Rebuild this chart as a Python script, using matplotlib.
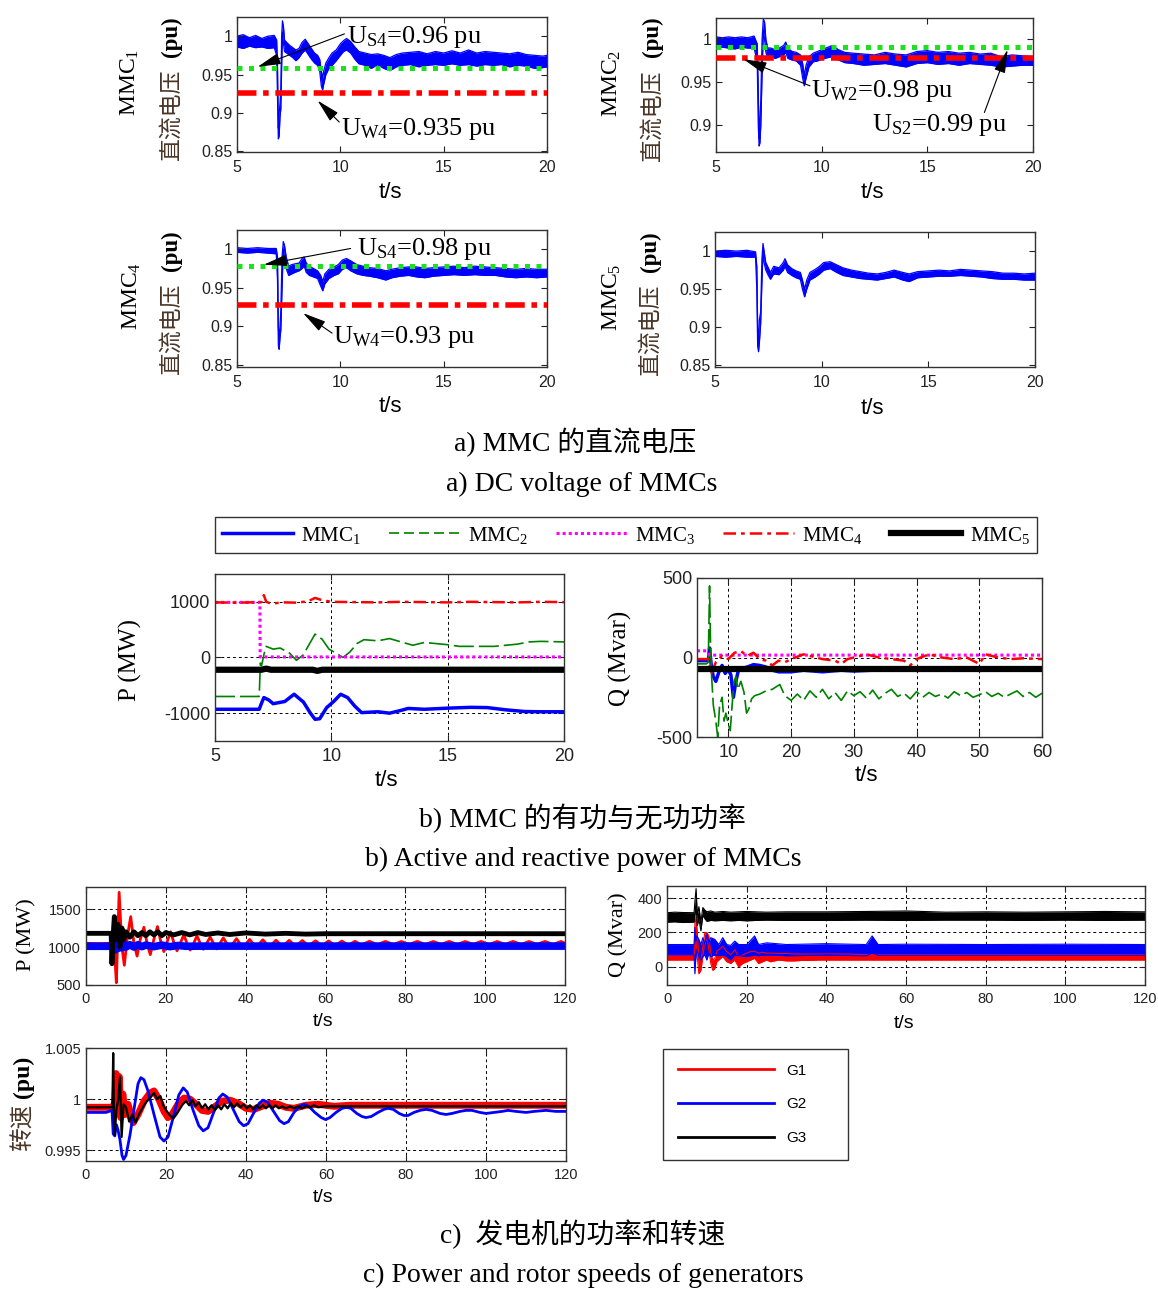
import numpy as np
import matplotlib
matplotlib.use("Agg")
import matplotlib.pyplot as plt
from matplotlib.lines import Line2D
from matplotlib.ticker import FormatStrFormatter

plt.rcParams['font.family'] = ['Liberation Sans', 'DejaVu Sans']
plt.rcParams['axes.unicode_minus'] = False
plt.rcParams['mathtext.fontset'] = 'custom'
plt.rcParams['mathtext.rm'] = 'Liberation Serif'
plt.rcParams['mathtext.it'] = 'Liberation Serif:italic'
plt.rcParams['mathtext.bf'] = 'Liberation Serif:bold'
SERIF = ['Liberation Serif', 'Noto Sans CJK SC']
CJK = ['Noto Sans CJK SC']

# ======================= DATA =======================
# a) DC voltage of MMCs: (t [s], lower edge, upper edge) of the noisy trace [pu]
dc_mmc1 = [
    (5.0, .986, 1.000), (5.3, .984, 1.002), (5.6, .987, .998), (5.9, .985, 1.001), (6.2, .986, .997),
    (6.5, .984, 1.000), (6.8, .985, 1.001), (6.92, .975, .995), (6.96, .920, .960), (7.0, .866, .880),
    (7.04, .870, .900), (7.08, .895, .912), (7.12, .905, .930), (7.16, .960, 1.000), (7.2, 1.005, 1.020),
    (7.25, .990, 1.012), (7.3, .980, .995), (7.4, .978, .992), (7.55, .975, .988), (7.7, .972, .985),
    (7.85, .968, .982), (8.0, .972, .984), (8.15, .978, .992), (8.3, .982, .996), (8.45, .976, .990),
    (8.6, .970, .984), (8.75, .965, .978), (8.9, .962, .975), (9.0, .955, .970), (9.08, .935, .955),
    (9.14, .930, .945), (9.2, .938, .955), (9.3, .950, .965), (9.45, .958, .972), (9.6, .962, .978),
    (9.8, .968, .982), (10.0, .975, .990), (10.15, .980, .994), (10.3, .982, .997), (10.5, .978, .993),
    (10.7, .970, .986), (10.9, .964, .980), (11.2, .962, .978), (11.5, .958, .976), (11.8, .963, .977),
    (12.1, .958, .975), (12.4, .955, .972), (12.7, .960, .976), (13.0, .962, .978), (13.4, .963, .979),
    (13.8, .960, .980), (14.2, .962, .977), (14.6, .963, .980), (15.0, .962, .978), (15.4, .964, .981),
    (15.8, .962, .978), (16.2, .963, .982), (16.6, .961, .978), (17.0, .963, .980), (17.4, .962, .979),
    (17.8, .963, .978), (18.2, .960, .977), (18.6, .962, .979), (19.0, .961, .976), (19.4, .958, .975),
    (19.8, .959, .974), (20.0, .960, .975)]
dc_mmc2 = [
    (5.0, .990, 1.003), (5.3, .991, 1.002), (5.6, .990, 1.003), (5.9, .989, 1.002), (6.2, .991, 1.003),
    (6.5, .990, 1.002), (6.8, .990, 1.004), (6.95, .975, .995), (7.0, .900, .940), (7.04, .876, .885),
    (7.08, .880, .905), (7.12, .900, .930), (7.18, .960, 1.000), (7.24, 1.010, 1.024), (7.3, 1.000, 1.020),
    (7.36, .985, 1.000), (7.45, .978, .990), (7.6, .980, .990), (7.8, .978, .988), (8.0, .980, .990),
    (8.2, .982, .993), (8.3, .985, .997), (8.4, .978, .990), (8.6, .976, .986), (8.8, .975, .985),
    (9.0, .970, .982), (9.1, .955, .972), (9.18, .946, .958), (9.26, .955, .970), (9.4, .968, .980),
    (9.6, .974, .984), (9.8, .975, .986), (10.0, .977, .988), (10.3, .979, .991), (10.5, .980, .993),
    (10.8, .976, .988), (11.1, .973, .985), (11.5, .972, .984), (12.0, .970, .983), (12.5, .971, .982),
    (13.0, .972, .985), (13.5, .970, .983), (14.0, .968, .982), (14.5, .972, .986), (15.0, .973, .987),
    (15.5, .971, .985), (16.0, .972, .986), (16.5, .970, .984), (17.0, .972, .985), (17.5, .971, .983),
    (18.0, .970, .984), (18.5, .968, .980), (19.0, .969, .982), (19.5, .970, .981), (20.0, .970, .980)]
dc_mmc4 = [
    (5.0, .996, 1.002), (5.5, .995, 1.001), (6.0, .996, 1.002), (6.5, .995, 1.001), (6.9, .994, 1.001),
    (6.96, .960, .990), (7.0, .875, .900), (7.04, .870, .880), (7.08, .885, .900), (7.12, .895, .920),
    (7.18, .950, .990), (7.24, 1.000, 1.010), (7.3, .990, 1.005), (7.38, .975, .990), (7.5, .966, .978),
    (7.65, .968, .980), (7.8, .970, .981), (8.0, .972, .982), (8.15, .975, .988), (8.25, .978, .990),
    (8.35, .970, .982), (8.5, .966, .978), (8.7, .964, .975), (8.9, .962, .972), (9.05, .952, .966),
    (9.15, .946, .958), (9.25, .955, .968), (9.45, .962, .974), (9.7, .966, .977), (9.9, .968, .980),
    (10.1, .974, .986), (10.3, .976, .988), (10.5, .972, .985), (10.8, .968, .980), (11.1, .966, .978),
    (11.4, .965, .976), (11.8, .963, .975), (12.2, .960, .972), (12.5, .963, .974), (12.9, .965, .976),
    (13.3, .966, .977), (13.7, .964, .977), (14.1, .963, .975), (14.5, .965, .976), (15.0, .966, .977),
    (15.5, .967, .978), (16.0, .966, .976), (16.5, .967, .978), (17.0, .966, .977), (17.5, .966, .976),
    (18.0, .964, .975), (18.5, .963, .974), (19.0, .964, .975), (19.5, .963, .974), (20.0, .964, .974)]
dc_mmc5 = [
    (5.0, .993, 1.000), (5.5, .992, 1.001), (6.0, .993, 1.000), (6.5, .992, 1.001), (6.9, .992, .999),
    (6.96, .950, .980), (7.0, .875, .900), (7.04, .868, .878), (7.08, .880, .910), (7.14, .905, .920),
    (7.2, .960, .990), (7.25, 1.000, 1.010), (7.3, .985, 1.000), (7.38, .975, .985), (7.5, .968, .978),
    (7.6, .963, .972), (7.75, .970, .980), (8.0, .969, .978), (8.2, .975, .985), (8.28, .980, .990),
    (8.4, .972, .982), (8.6, .968, .977), (8.8, .965, .974), (9.0, .963, .972), (9.1, .950, .962),
    (9.2, .940, .950), (9.3, .950, .962), (9.45, .962, .972), (9.7, .966, .976), (9.9, .970, .980),
    (10.1, .975, .985), (10.4, .977, .986), (10.7, .972, .982), (11.0, .968, .978), (11.4, .966, .975),
    (11.8, .964, .973), (12.2, .963, .971), (12.6, .962, .970), (13.0, .964, .972), (13.4, .966, .975),
    (13.8, .962, .972), (14.1, .960, .970), (14.5, .965, .973), (15.0, .966, .974), (15.5, .967, .975),
    (16.0, .967, .974), (16.5, .968, .976), (17.0, .967, .975), (17.5, .966, .974), (18.0, .964, .973),
    (18.5, .963, .971), (19.0, .963, .971), (19.5, .962, .970), (20.0, .962, .971)]
# threshold levels drawn in a) [pu]: (green dotted U_S, red dash-dot U_W)
lvl_mmc1 = (0.959, 0.926)
lvl_mmc2 = (0.991, 0.979)
lvl_mmc4 = (0.978, 0.927)
# annotation texts
ann_mmc1 = (r'U$_{\mathrm{S4}}$=0.96 pu', r'U$_{\mathrm{W4}}$=0.935 pu')
ann_mmc2 = (r'U$_{\mathrm{W2}}$=0.98 pu', r'U$_{\mathrm{S2}}$=0.99 pu')
ann_mmc4 = (r'U$_{\mathrm{S4}}$=0.98 pu', r'U$_{\mathrm{W4}}$=0.93 pu')

# b) active power of MMCs [MW]: (t, P)
p_mmc1 = [(5, -930), (6.9, -930), (7.0, -820), (7.1, -720), (7.3, -760), (7.5, -830), (8.0, -790),
          (8.4, -660), (8.8, -800), (9.1, -1000), (9.3, -1110), (9.5, -1100), (9.8, -900), (10.1, -790),
          (10.4, -660), (10.7, -720), (11.0, -870), (11.3, -990), (12.0, -975), (12.5, -1000), (13.0, -950),
          (13.3, -915), (14.0, -930), (15.0, -910), (16.0, -895), (16.7, -900), (17.5, -940), (18.3, -970),
          (19.0, -975), (20.0, -975)]
p_mmc2 = [(5, -700), (6.9, -700), (6.95, -100), (7.0, -150), (7.1, 50), (7.2, 200), (7.5, 150), (7.8, 170),
          (8.2, 80), (8.5, -50), (8.8, 50), (9.0, 200), (9.3, 420), (9.6, 330), (9.9, 150), (10.2, 80),
          (10.5, 0), (10.8, 100), (11.1, 250), (11.4, 320), (12.0, 300), (12.5, 340), (13.0, 280), (13.5, 220),
          (14.0, 270), (15.0, 230), (15.5, 200), (16.0, 200), (17.0, 200), (17.5, 220), (18.0, 240),
          (18.5, 280), (19.0, 290), (20.0, 280)]
p_mmc3 = [(5, 990), (6.93, 990), (6.94, 10), (20, 10)]
p_mmc4 = [(5, 990), (6.0, 985), (7.0, 995), (7.1, 1120), (7.2, 1000), (7.4, 970), (8.0, 990), (8.5, 985),
          (9.0, 1010), (9.3, 1070), (9.6, 1030), (10.0, 1000), (11.0, 995), (12.0, 990), (13.0, 1000),
          (14.0, 995), (15.0, 990), (16.0, 1000), (17.0, 995), (18.0, 990), (19.0, 1000), (20.0, 995)]
p_mmc5 = [(5, -220), (7.0, -220), (7.2, -200), (7.4, -220), (9.2, -220), (9.4, -240), (9.6, -220), (20, -220)]

# b) reactive power of MMCs [Mvar]: (t, Q)
q_mmc1 = [(5, -20), (6.8, -20), (7.0, 60), (7.3, -60), (7.6, -120), (8.0, -150), (8.5, -90), (9.0, -50),
          (9.5, -100), (10.0, -70), (10.4, -110), (10.8, -250), (11.2, -150), (11.6, -80), (12.0, -70),
          (13.0, -60), (14.0, -45), (15.0, -50), (16.0, -60), (17.0, -80), (18.0, -90), (20.0, -90),
          (22.0, -80), (25.0, -90), (28.0, -80), (30.0, -85), (33.0, -80), (60.0, -80)]
q_mmc2 = [(5, -40), (6.5, -40), (6.8, -30), (7.0, 450), (7.15, 100), (7.3, -100), (7.6, -300), (8.0, -400),
          (8.3, -500), (8.6, -300), (9.0, -250), (9.3, -400), (9.6, -350), (10.0, -420), (10.3, -460),
          (10.6, -300), (10.9, -150), (11.2, -120), (11.5, -200), (12.0, -150), (12.5, -220), (12.9, -350),
          (13.3, -320), (13.7, -260), (14.2, -240), (15, -230), (16, -210), (17, -200), (18.2, -170),
          (19, -240), (20, -270), (21, -230), (22, -270), (23, -210), (24, -250), (25, -200), (26, -260),
          (27, -220), (28, -270), (29, -210), (30, -240), (31, -215), (32, -255), (33, -205), (34, -260),
          (35, -225), (36, -200), (37, -245), (38, -225), (39, -260), (40, -215), (41, -250), (42, -220),
          (43, -245), (44, -230), (45, -255), (46, -215), (47, -240), (48, -220), (49, -250), (50, -235),
          (51, -215), (52, -245), (53, -225), (54, -250), (55, -230), (56, -210), (57, -245), (58, -220),
          (59, -250), (60, -225)]
q_mmc3 = [(5, 42), (6.5, 42), (7.0, 15), (60, 15)]
q_mmc4 = [(5, -10), (6.8, -10), (7.2, -100), (7.5, -80), (8.0, -30), (8.5, -10), (9, 10), (10, -10), (11, 30),
          (12, 40), (13, 10), (14, 30), (15, -10), (16, -20), (17, -50), (18, -20), (19, -30), (20, -10),
          (22, 20), (24, 0), (25, -10), (27, -20), (28, -40), (29, -10), (30, 0), (32, 20), (34, 0), (36, -10),
          (38, -20), (39, -50), (40, -10), (42, 20), (44, 0), (46, -10), (48, 0), (50, -40), (51, 20), (53, 0),
          (55, -10), (57, -5), (60, -10)]
q_mmc5 = [(5, -75), (60, -75)]

# c) generator active power [MW]: (t, P)
gp_g1 = [(0, 1050), (3, 1045), (6.8, 1050), (7.2, 900), (7.6, 530), (8.3, 1720), (9.0, 1000), (9.6, 760),
         (10.4, 1150), (11.2, 1400), (12.0, 1050), (12.8, 880), (13.6, 1100), (14.5, 1260), (15.3, 1050),
         (16.1, 900), (17.0, 1100), (17.9, 1270), (18.7, 1080), (19.5, 940), (20.4, 1080), (21.2, 1200),
         (22.0, 1060), (22.8, 950), (23.7, 1060), (24.5, 1160), (25.3, 1050), (26.1, 960), (27.0, 1050),
         (27.8, 1150), (28.6, 1050), (29.4, 970), (31.1, 1130), (32.7, 975), (34.4, 1120), (36.0, 985),
         (37.7, 1110), (39.3, 990), (41.0, 1100), (42.6, 995), (44.3, 1095), (45.9, 1000), (47.6, 1090),
         (49.2, 1005), (50.9, 1088), (52.5, 1010), (54.2, 1085), (55.8, 1015), (57.5, 1082), (59.1, 1018),
         (60.8, 1080), (62.4, 1020), (64.1, 1078), (65.7, 1025), (67.4, 1075), (69.0, 1028), (71, 1075),
         (73, 1032), (75, 1074), (77, 1034), (79, 1073), (81, 1035), (83, 1074), (85, 1034), (87, 1073),
         (89, 1035), (91, 1074), (93, 1034), (95, 1073), (97, 1035), (99, 1074), (101, 1034), (103, 1073),
         (105, 1035), (107, 1074), (109, 1034), (111, 1073), (113, 1035), (115, 1074), (117, 1034),
         (119, 1073), (120, 1050)]
gp_g2 = [(0, 1010), (6.8, 1010), (7.2, 960), (7.6, 1060), (8.0, 980), (8.5, 1050), (9.0, 990), (9.5, 1040),
         (10, 1000), (11, 1030), (12, 1000), (13, 1030), (14, 1005), (15, 1025), (17, 1005), (19, 1025),
         (21, 1005), (23, 1020), (25, 1010), (30, 1012), (120, 1012)]
gp_g3 = [(0, 1180), (6.3, 1180), (6.5, 780), (6.8, 1150), (7.1, 1400), (7.5, 1100), (8.0, 1300), (8.5, 1000),
         (9.0, 1250), (9.5, 1100), (10, 1200), (11, 1130), (12, 1200), (13, 1150), (14, 1190), (15, 1150),
         (16, 1200), (17, 1160), (18, 1200), (19, 1150), (20, 1190), (22, 1160), (24, 1190), (26, 1160),
         (28, 1190), (30, 1165), (33, 1185), (36, 1165), (40, 1185), (45, 1170), (50, 1180), (55, 1170),
         (60, 1175), (120, 1175)]

# c) generator reactive power [Mvar]: (t, lower edge, upper edge)
gq_g1 = [(0, 40, 70), (6.8, 40, 70), (7.0, 100, 250), (7.3, 150, 290), (7.6, 60, 200), (8.0, -40, 60),
         (8.5, -20, 40), (9, 60, 120), (9.5, 150, 200), (10, 180, 200), (10.5, 100, 180), (11, 20, 80),
         (11.5, -20, 40), (12, -10, 50), (12.5, 30, 90), (13, 40, 100), (14, 60, 120), (15, 30, 90),
         (16, 20, 70), (17, 40, 100), (18, 0, 60), (19, 20, 70), (20, 30, 80), (21, 40, 90), (22, 50, 90),
         (23, 20, 80), (24, 30, 85), (25, 40, 80), (26, 30, 80), (27, 35, 80), (28, 40, 78), (30, 35, 78),
         (32, 35, 75), (34, 38, 75), (36, 38, 75), (38, 40, 75), (40, 40, 75), (45, 40, 75), (50, 40, 72),
         (60, 40, 72), (80, 40, 72), (100, 40, 72), (120, 40, 72)]
gq_g2 = [(0, 70, 130), (6.8, 70, 130), (7.0, -40, 230), (7.2, 40, 150), (7.5, 100, 180), (8.0, 60, 160),
         (8.5, 40, 130), (9.0, 60, 170), (9.5, 70, 130), (10, 40, 190), (10.5, 80, 140), (11, 60, 170),
         (12, 70, 160), (13, 65, 130), (14, 70, 170), (15, 60, 130), (16, 40, 125), (17, 70, 150),
         (18, 65, 130), (20, 60, 130), (22, 70, 180), (23, 65, 130), (25, 70, 140), (30, 65, 130),
         (40, 68, 135), (50, 65, 130), (51.5, 80, 180), (53, 68, 130), (60, 68, 132), (80, 68, 130),
         (100, 68, 132), (120, 68, 130)]
gq_g3 = [(0, 260, 315), (2, 262, 318), (4, 258, 316), (6.8, 260, 315), (7.0, 300, 380), (7.3, 350, 455),
         (7.6, 240, 300), (8.0, 280, 350), (8.5, 210, 260), (9.0, 300, 345), (9.5, 280, 330), (10, 265, 320),
         (11, 270, 325), (12, 268, 318), (14, 270, 322), (16, 268, 318), (18, 270, 320), (20, 268, 322),
         (25, 272, 318), (30, 270, 320), (40, 270, 320), (50, 272, 322), (60, 270, 325), (70, 272, 318),
         (80, 272, 320), (90, 270, 318), (100, 272, 320), (110, 270, 322), (120, 272, 320)]

# c) generator rotor speed [pu]: (t, w)
sp_g1 = [(0, .9992), (6.8, .9992), (7.2, .9998), (7.5, 1.0025), (7.9, .9990), (8.3, 1.0022), (8.7, .9982),
         (9.2, 1.0005), (9.8, .9985), (10.5, .9995), (11.8, .9977), (13, .9985), (14.5, .9998), (16, 1.0006),
         (17, 1.0008), (18.2, 1.0), (19.5, .9988), (20.5, .9982), (21.5, .9985), (23, .9995), (24.5, 1.0001),
         (26, 1.0), (27.5, .9995), (29, .9989), (30.5, .9988), (32, .9992), (34, .9998), (36, .9999),
         (38, .9996), (40, .9991), (42, .9990), (44, .9993), (46, .9996), (48, .9995), (50, .9992),
         (52, .9991), (55, .9994), (58, .9995), (62, .9993), (66, .9994), (120, .9994)]
sp_g2 = [(0, .9987), (5, .9987), (6.5, .9989), (6.8, .9966), (7.2, .9964), (7.6, .9975), (8.0, .9970),
         (8.5, .9960), (9.0, .9945), (9.4, .9941), (10, .9945), (11, .9965), (12, .9990), (13, 1.0015),
         (13.7, 1.0021), (14.5, 1.0019), (15.5, 1.0008), (17, .9985), (18.5, .9963), (19.5, .9959),
         (20.5, .9963), (22, .9985), (23.2, 1.0004), (24.3, 1.0011), (25.3, 1.0007), (26.7, .9990),
         (28.2, .9974), (29.3, .9969), (30.5, .9972), (32, .9988), (33.2, 1.0001), (34.2, 1.0005),
         (35.3, 1.0002), (36.8, .9990), (38.3, .9978), (39.4, .9974), (40.5, .9976), (42, .9987),
         (43.3, .9996), (44.3, .9999), (45.4, .9997), (46.9, .9988), (48.4, .9979), (49.5, .9976),
         (50.6, .9978), (52, .9987), (53.4, .9993), (54.5, .9995), (55.7, .9993), (57.2, .9987),
         (58.8, .9982), (59.9, .9980), (61, .9982), (62.5, .9987), (64, .9991), (65, .9992), (66.2, .9991),
         (67.7, .9986), (69, .9983), (70, .9982), (71.3, .9983), (73, .9987), (74.5, .9990), (75.5, .9991),
         (76.8, .9990), (78.3, .9986), (79.5, .9984), (80.5, .9984), (82, .9987), (83.5, .9989), (85, .9990),
         (86.5, .9989), (88.5, .9986), (90, .9985), (91.5, .9986), (93.5, .9988), (95, .9989), (96.5, .9989),
         (98.5, .9987), (100, .9986), (102, .9987), (104, .9988), (105.5, .9989), (107.5, .9988),
         (110, .9987), (112, .9988), (115, .9989), (117.5, .9988), (120, .9988)]
sp_g3 = [(0, .9992), (6.6, .9992), (6.8, 1.0045), (7.0, .9975), (7.2, .9965), (7.6, .9990), (8.0, .9998),
         (8.5, 1.0022), (8.9, .9963), (9.4, .9995), (10, .9992), (10.8, .9978), (11.6, .9985), (12.4, .9977),
         (13.2, .9985), (14.2, .9992), (15.2, .9998), (16.2, 1.0002), (17, 1.0006), (17.8, 1.0),
         (18.6, 1.0003), (19.4, .9993), (20.2, .9988), (21, .9984), (21.8, .9981), (22.6, .9985),
         (23.4, .9990), (24.2, .9995), (25, .9998), (25.8, .9994), (26.6, .9999), (27.4, .9993),
         (28.2, .9997), (29, .9991), (29.8, .9995), (30.6, .9990), (31.4, .9994), (32.2, .9989), (33, .9994),
         (33.8, .9990), (34.6, .9995), (35.4, .9991), (36.2, .9996), (37, .9992), (37.8, .9996),
         (38.6, .9992), (39.4, .9995), (40.2, .9991), (41, .9994), (41.8, .9990), (42.6, .9994),
         (43.4, .9991), (44.2, .9994), (45, .9991), (45.8, .9994), (46.6, .9991), (47.4, .9994),
         (48.2, .9991), (49, .9993), (50, .9991), (51, .9993), (52, .9991), (53, .9993), (54, .9991),
         (55, .9993), (56, .9992), (57, .9994), (58, .9992), (60, .9993), (120, .9993)]

mmc_labels = ['MMC$_1$', 'MMC$_2$', 'MMC$_3$', 'MMC$_4$', 'MMC$_5$']
gen_labels = ['G1', 'G2', 'G3']

# ======================= FIGURE =======================
W, H = 1158, 1289
fig = plt.figure(figsize=(W / 100, H / 100), dpi=100)
fig.patch.set_facecolor('white')
CJK_COLOR = '#4a3526'


def box(x0, y0, x1, y1):
    return [x0 / W, 1 - y1 / H, (x1 - x0) / W, (y1 - y0) / H]


def ftext(x, y, s, **kw):
    fig.text(x / W, 1 - y / H, s, **kw)


def setup(ax, xlim, ylim, xt, yt, fs, grid=False, xpad=5.5, ypad=3.5):
    ax.set_xlim(*xlim)
    ax.set_ylim(*ylim)
    ax.set_xticks(xt)
    ax.set_yticks(yt)
    ax.xaxis.set_major_formatter(FormatStrFormatter('%g'))
    ax.yaxis.set_major_formatter(FormatStrFormatter('%g'))
    ax.tick_params(direction='in', top=True, right=True, length=4, width=0.8,
                   labelsize=fs, colors='#222')
    ax.tick_params(axis='x', pad=xpad)
    ax.tick_params(axis='y', pad=ypad)
    for s in ax.spines.values():
        s.set_linewidth(1.0)
        s.set_color('#333')
    if grid:
        ax.grid(True, color='k', ls=(0, (3, 3)), lw=0.7)
        ax.set_axisbelow(True)


def arr(d):
    return np.array(d, dtype=float).T


def cjk_pu_label(x, y_cjk, y_pu, cjk, fs):
    ftext(x, y_cjk, cjk, rotation=90, ha='center', va='center', fontsize=fs, family=CJK, color=CJK_COLOR)
    ftext(x, y_pu, '(pu)', rotation=90, ha='center', va='center', fontsize=fs, family=['Liberation Serif'],
          weight='bold')


GREEN_A = '#1ee01e'
ARROW = dict(arrowstyle='-|>,head_length=0.9,head_width=0.22', color='k', lw=0.8,
             shrinkA=0, shrinkB=0, mutation_scale=16)

# ---------- a) DC voltages ----------
a_panels = [
    (dc_mmc1, lvl_mmc1, (237, 17, 547, 152), (0.849, 1.025), [0.85, 0.9, 0.95, 1], 1, (130, 171)),
    (dc_mmc2, lvl_mmc2, (716, 18, 1033, 152), (0.869, 1.025), [0.9, 0.95, 1], 2, (612, 652)),
    (dc_mmc4, lvl_mmc4, (237, 230, 547, 367), (0.847, 1.025), [0.85, 0.9, 0.95, 1], 4, (132, 171)),
    (dc_mmc5, None, (715, 232, 1035, 367), (0.848, 1.025), [0.85, 0.9, 0.95, 1], 5, (612, 650)),
]
a_axes = []
for data, lvl, px, ylim, yt, k, (xl1, xl2) in a_panels:
    ax = fig.add_axes(box(*px))
    t, lo, hi = arr(data)
    ax.fill_between(t, lo, hi, color='#0000ff', lw=0)
    ax.plot(t, lo, color='#0000ff', lw=0.9)
    ax.plot(t, hi, color='#0000ff', lw=0.9)
    if lvl is not None:
        ax.axhline(lvl[0], color=GREEN_A, lw=3.6, ls=(0, (1, 1.3)), zorder=3)
        ax.axhline(lvl[1], color='#ff0000', lw=4, ls=(0, (3.5, 1.2, 1, 1.2)), zorder=3)
    setup(ax, (5, 20), ylim, [5, 10, 15, 20], yt, 11.5, xpad=6)
    yc = (px[1] + px[3]) / 2
    ftext(xl1, yc - 2, 'MMC$_{%d}$' % k, rotation=90, ha='center', va='center', fontsize=17, family=SERIF)
    cjk_pu_label(xl2, yc + 30, yc - 48, '直流电压', 16.5)
    a_axes.append(ax)

for ax, (x, y) in zip(a_axes, [(390, 193), (872, 193), (390, 407), (872, 409)]):
    ftext(x, y, 't/s', ha='center', va='center', fontsize=16)

# annotations
ax = a_axes[0]
ax.annotate('', xy=(6.0, 0.960), xytext=(10.2, 1.003), arrowprops=ARROW, zorder=5)
ax.text(10.3, 0.9987, ann_mmc1[0], fontsize=19, family=SERIF, va='center', ha='left')
ax.annotate('', xy=(8.9, 0.916), xytext=(9.95, 0.888), arrowprops=ARROW, zorder=5)
ax.text(10.05, 0.879, ann_mmc1[1], fontsize=19, family=SERIF, va='center', ha='left')
ax = a_axes[1]
ax.annotate('', xy=(6.3, 0.977), xytext=(9.45, 0.946), arrowprops=ARROW, zorder=5)
ax.text(9.5, 0.9395, ann_mmc2[0], fontsize=19, family=SERIF, va='center', ha='left')
ax.annotate('', xy=(18.8, 0.988), xytext=(17.7, 0.915), arrowprops=ARROW, zorder=5)
ax.text(12.4, 0.900, ann_mmc2[1], fontsize=19, family=SERIF, va='center', ha='left')
ax = a_axes[2]
ax.annotate('', xy=(6.3, 0.980), xytext=(10.5, 1.001), arrowprops=ARROW, zorder=5)
ax.text(10.8, 1.0, ann_mmc4[0], fontsize=19, family=SERIF, va='center', ha='left')
ax.annotate('', xy=(8.2, 0.917), xytext=(9.6, 0.891), arrowprops=ARROW, zorder=5)
ax.text(9.65, 0.886, ann_mmc4[1], fontsize=19, family=SERIF, va='center', ha='left')

ftext(575, 442, 'a) MMC 的直流电压', ha='center', va='center', fontsize=20, family=SERIF)
ftext(582, 484, 'a) DC voltage of MMCs', ha='center', va='center', fontsize=20, family=SERIF)

# ---------- b) MMC power ----------
mmc_styles = [
    dict(color='#0000ff', lw=2.5, ls='-'),
    dict(color='#008000', lw=1.2, ls=(0, (12, 3))),
    dict(color='#ff00ff', lw=2.2, ls=(0, (1, 1))),
    dict(color='#ff0000', lw=1.8, ls=(0, (5, 2, 1.5, 2))),
    dict(color='#000000', lw=4.5, ls='-'),
]
axP = fig.add_axes(box(215, 574, 564, 741))
for d, st in zip([p_mmc1, p_mmc2, p_mmc3, p_mmc4, p_mmc5], mmc_styles):
    t, v = arr(d)
    axP.plot(t, v, **st)
setup(axP, (5, 20), (-1500, 1500), [5, 10, 15, 20], [-1000, 0, 1000], 13, grid=True, xpad=5)
ftext(130, 660, 'P (MW)', rotation=90, ha='center', va='center', fontsize=18, family=SERIF)
ftext(386, 780, 't/s', ha='center', va='center', fontsize=16)

axQ = fig.add_axes(box(697, 578, 1042, 737))
for d, st in zip([q_mmc1, q_mmc2, q_mmc3, q_mmc4, q_mmc5], mmc_styles):
    t, v = arr(d)
    axQ.plot(t, v, **st)
setup(axQ, (5, 60), (-500, 500), [10, 20, 30, 40, 50, 60], [-500, 0, 500], 13, grid=True, xpad=5)
ftext(620, 658, 'Q (Mvar)', rotation=90, ha='center', va='center', fontsize=18, family=SERIF)
ftext(866, 776, 't/s', ha='center', va='center', fontsize=16)

handles = [Line2D([], [], **st) for st in mmc_styles]
handles[1] = Line2D([], [], color='#008000', lw=1.2, ls=(0, (6, 3)))
leg = fig.legend(handles, mmc_labels, loc='lower left', ncol=5, mode='expand',
                 bbox_to_anchor=(215 / W, 1 - 553 / H, 822 / W, 38 / H), borderaxespad=0,
                 prop=dict(family=SERIF, size=15), handlelength=3.4, handletextpad=0.4,
                 columnspacing=0.8, fancybox=False, framealpha=1, edgecolor='#333', borderpad=0.35)
leg.get_frame().set_linewidth(1.0)

ftext(582, 818, 'b) MMC 的有功与无功功率', ha='center', va='center', fontsize=20, family=SERIF)
ftext(583, 859, 'b) Active and reactive power of MMCs', ha='center', va='center', fontsize=20,
      family=SERIF)

# ---------- c) generators ----------
gcol = ['#ff0000', '#0000ff', '#000000']
axGP = fig.add_axes(box(86, 887, 565, 985))
for d, c, lw in zip([gp_g1, gp_g2, gp_g3], gcol, [2.0, 5.5, 3.5]):
    t, v = arr(d)
    axGP.plot(t, v, color=c, lw=lw)
setup(axGP, (0, 120), (500, 1790), list(range(0, 121, 20)), [500, 1000, 1500], 10.5, grid=True, xpad=5)
ftext(27, 935, 'P (MW)', rotation=90, ha='center', va='center', fontsize=16, family=SERIF)
ftext(323, 1022, 't/s', ha='center', va='center', fontsize=14)

axGQ = fig.add_axes(box(667, 886, 1145, 985))
for d, c in zip([gq_g1, gq_g2, gq_g3], gcol):
    t, lo, hi = arr(d)
    axGQ.fill_between(t, lo, hi, color=c, lw=0)
    axGQ.plot(t, lo, color=c, lw=0.8)
    axGQ.plot(t, hi, color=c, lw=0.8)
setup(axGQ, (0, 120), (-105, 470), list(range(0, 121, 20)), [0, 200, 400], 10.5, grid=True, xpad=5)
ftext(619, 935, 'Q (Mvar)', rotation=90, ha='center', va='center', fontsize=16, family=SERIF)
ftext(904, 1023, 't/s', ha='center', va='center', fontsize=14)

axS = fig.add_axes(box(86, 1048, 566, 1161))
for d, c, lw in zip([sp_g1, sp_g2, sp_g3], gcol, [5.0, 2.0, 1.6]):
    t, v = arr(d)
    axS.plot(t, v, color=c, lw=lw)
setup(axS, (0, 120), (0.99395, 1.005), list(range(0, 121, 20)), [0.995, 1, 1.005], 10.5, grid=True, xpad=5)
cjk_pu_label(23, 1127, 1077, '转速', 17)
ftext(323, 1198, 't/s', ha='center', va='center', fontsize=14)

ghandles = [Line2D([], [], color=c, lw=2) for c in gcol]
leg2 = fig.legend(ghandles, gen_labels, loc='upper left', mode='expand',
                  bbox_to_anchor=(663 / W, 1 - 1158 / H, 185 / W, 109 / H),
                  borderaxespad=0, prop=dict(family=['Liberation Sans'], size=11), handlelength=6.3,
                  handletextpad=0.8, labelspacing=1.3, borderpad=0.95, fancybox=False, framealpha=1,
                  edgecolor='#333')
leg2.get_frame().set_linewidth(1.0)

ftext(583, 1234, 'c)  发电机的功率和转速', ha='center', va='center', fontsize=20, family=SERIF)
ftext(583, 1275, 'c) Power and rotor speeds of generators', ha='center', va='center', fontsize=20,
      family=SERIF)

fig.savefig('out.png', dpi=100)
